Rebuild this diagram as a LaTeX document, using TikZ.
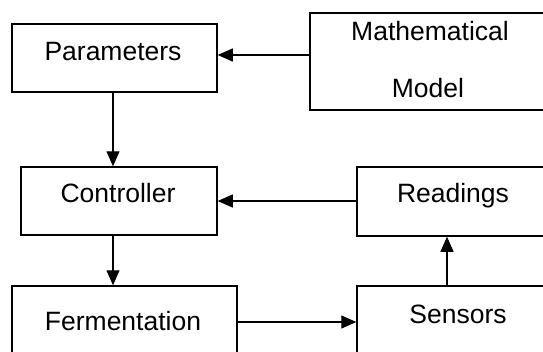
\documentclass[tikz,border=0pt]{standalone}
\usepackage{fontspec}
\setmainfont{Liberation Sans}
\usetikzlibrary{arrows.meta}
\begin{document}
\begin{tikzpicture}[x=1pt,y=-1pt,
  blockbox/.style={draw=black,line width=1.5pt,inner sep=0pt},
  blocktext/.style={anchor=base,inner sep=0pt,font=\fontsize{26.5}{30}\selectfont},
  flow/.style={draw=black,line width=1.3pt,-{Triangle[length=15pt,width=13pt]}}]
\clip (0,0) rectangle (543,351);
\useasboundingbox (0,0) rectangle (543,351);
\fill[white] (0,0) rectangle (543,351);

% blocks (px-like coordinates, y grows downward)
\node[blockbox,minimum width=205pt,minimum height=68pt] (params) at (114.5,58) {};
\node[blockbox,minimum width=242pt,minimum height=97pt] (model) at (431,61.5) {};
\node[blockbox,minimum width=196pt,minimum height=68pt] (ctrl) at (119,201) {};
\node[blockbox,minimum width=194pt,minimum height=69pt] (read) at (454,201.5) {};
\node[blockbox,minimum width=225pt,minimum height=72pt] (ferm) at (124.5,322) {};
\node[blockbox,minimum width=200pt,minimum height=72pt] (sens) at (457,322) {};

% block captions
\node[blocktext] (paramsT) at (113,60) {Parameters};
\node[blocktext] (modelT1) at (430,40) {Mathematical};
\node[blocktext] (modelT2) at (428,97) {Model};
\node[blocktext] (ctrlT) at (118,202) {Controller};
\node[blocktext] (readT) at (453,202) {Readings};
\node[blocktext] (fermT) at (123,330) {Fermentation};
\node[blocktext] (sensT) at (458,323) {Sensors};

% connectors
\draw[flow] ([yshift=3pt]model.west |- params.east) -- ([yshift=3pt]params.east);
\draw[flow] ([xshift=-1.5pt]params.south) -- ([xshift=-1.5pt]params.south |- ctrl.north);
\draw[flow] (read.west |- ctrl.east) -- (ctrl.east);
\draw[flow] ([xshift=-1.5pt]params.south |- ctrl.south) -- ([xshift=-1.5pt]params.south |- ferm.north);
\draw[flow] (ferm.east) -- (sens.west);
\draw[flow] ([xshift=-10pt]sens.north) -- ([xshift=-10pt]sens.north |- read.south);
\end{tikzpicture}
\end{document}
